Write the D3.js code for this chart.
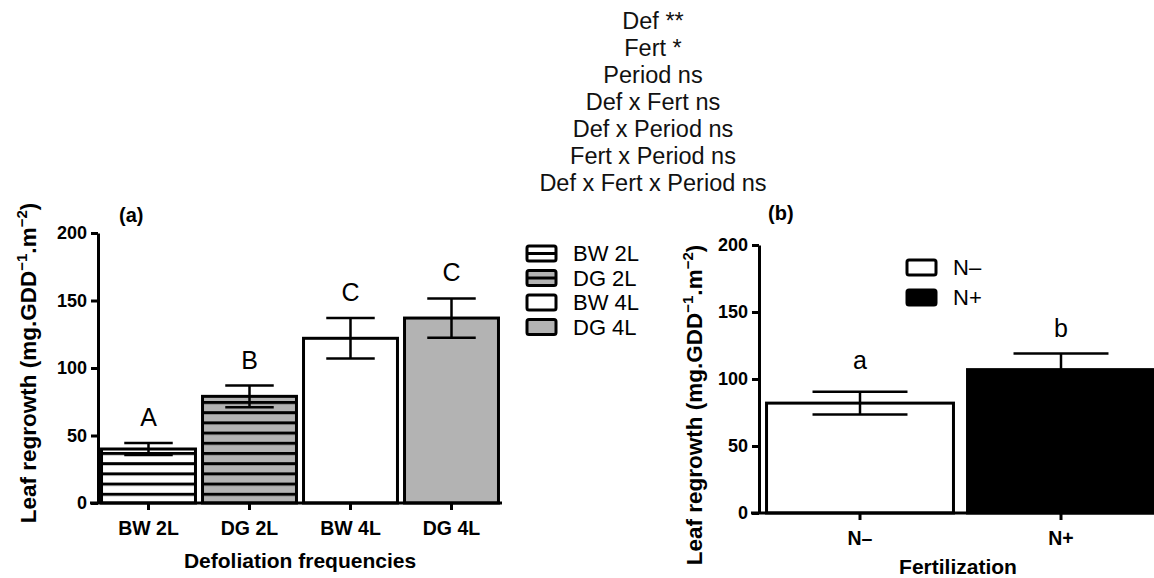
<!DOCTYPE html>
<html>
<head>
<meta charset="UTF-8">
<script src="https://d3js.org/d3.v7.min.js"></script>
<style>
  body { margin: 0; background: #fff; }
  svg { display: block; font-family: "Liberation Sans", Arial, sans-serif; }
</style>
</head>
<body>
<svg id="chart" width="1154" height="578"></svg>
<script>
// panel (a) data
const catsA = ["BW 2L", "DG 2L", "BW 4L", "DG 4L"];
const meansA = [40, 79, 122, 137];
const semA = [4.5, 8, 15, 14.5];
const lettersA = ["A", "B", "C", "C"];
// panel (b) data
const catsB = ["N\u2013", "N+"];
const meansB = [82, 107];
const semB = [8.5, 12];
const lettersB = ["a", "b"];
// ANOVA effects
const effects = ["Def **", "Fert *", "Period ns", "Def x Fert ns", "Def x Period ns",
  "Fert x Period ns", "Def x Fert x Period ns"];
const yTicks = [0, 50, 100, 150, 200];

const svg = d3.select("#chart");
const defs = svg.append("defs");

// striped patterns
function stripes(id, bg) {
  let p = defs.append("pattern").attr("id", id)
    .attr("patternUnits", "userSpaceOnUse").attr("width", 20).attr("height", 10.2)
    .attr("y", 503);
  p.append("rect").attr("width", 20).attr("height", 10.2).attr("fill", bg);
  p.append("rect").attr("y", 0).attr("width", 20).attr("height", 3).attr("fill", "#000");
}
stripes("hatchW", "#fff");
stripes("hatchG", "#b3b3b3");
const fillsA = ["url(#hatchW)", "url(#hatchG)", "#fff", "#b3b3b3"];
const fillsB = ["#fff", "#000"];

// effects text
svg.append("g").selectAll("text").data(effects).enter().append("text")
  .attr("x", 653).attr("y", (d, i) => 28.5 + i * 27)
  .attr("text-anchor", "middle").attr("font-size", 23.5).attr("fill", "#111")
  .text(d => d);

function yLabel(g, x, y) {
  let t = g.append("text").attr("transform", `translate(${x},${y}) rotate(-90)`)
    .attr("text-anchor", "middle").attr("font-size", 22.5).attr("font-weight", "bold");
  t.append("tspan").text("Leaf regrowth (mg.GDD");
  t.append("tspan").attr("dy", -9).attr("font-size", 15).text("\u22121");
  t.append("tspan").attr("dy", 9).text(".m");
  t.append("tspan").attr("dy", -9).attr("font-size", 15).text("\u22122");
  t.append("tspan").attr("dy", 9).text(")");
}

function panel(opts) {
  const g = svg.append("g");
  const y = d3.scaleLinear().domain([0, 200]).range([opts.y0, opts.y200]);
  const x = d3.scaleBand().domain(opts.cats).range(opts.xr)
    .paddingInner(opts.pin).paddingOuter(opts.pout);

  // bars
  g.selectAll("rect.bar").data(opts.cats).enter().append("rect")
    .attr("x", d => x(d) + 1.5).attr("width", x.bandwidth() - 3)
    .attr("y", (d, i) => y(opts.means[i]))
    .attr("height", (d, i) => y(0) - y(opts.means[i]))
    .attr("fill", (d, i) => opts.fills[i])
    .attr("stroke", "#000").attr("stroke-width", 3);

  // error bars
  opts.cats.forEach((c, i) => {
    const cx = x(c) + x.bandwidth() / 2, cw = x.bandwidth() / 4;
    const hi = y(opts.means[i] + opts.sem[i]), lo = y(opts.means[i] - opts.sem[i]);
    g.append("line").attr("x1", cx).attr("x2", cx).attr("y1", hi).attr("y2", lo)
      .attr("stroke", "#000").attr("stroke-width", 2.5);
    [hi, lo].forEach(v => g.append("line").attr("x1", cx - cw).attr("x2", cx + cw)
      .attr("y1", v).attr("y2", v).attr("stroke", "#000").attr("stroke-width", 2.5));
    g.append("text").attr("x", cx).attr("y", hi - opts.letOff[i]).attr("text-anchor", "middle")
      .attr("font-size", 25).text(opts.letters[i]);
  });

  // y axis
  const ya = g.append("g").attr("transform", `translate(${opts.xAxisX},0)`)
    .call(d3.axisLeft(y).tickValues(yTicks).tickSize(7).tickPadding(4).tickSizeOuter(0));
  ya.select(".domain").attr("stroke-width", 3);
  ya.selectAll(".tick line").attr("stroke-width", 3);
  ya.selectAll("text").attr("font-size", 18).attr("font-weight", "bold")
    .attr("font-family", "Liberation Sans, Arial, sans-serif").attr("fill", "#000");

  // x axis
  const xa = g.append("g").attr("transform", `translate(0,${opts.y0})`)
    .call(d3.axisBottom(x).tickSize(7).tickPadding(11).tickSizeOuter(0));
  xa.select(".domain").attr("d", `M${opts.xAxisX - 8},0H${opts.xr[1]}`).attr("stroke-width", 3);
  xa.selectAll(".tick line").attr("stroke-width", 3);
  xa.selectAll("text").attr("font-size", 19.5).attr("font-weight", "bold")
    .attr("font-family", "Liberation Sans, Arial, sans-serif").attr("fill", "#000");

  g.append("text").attr("x", opts.panelX).attr("y", opts.panelY).attr("font-size", 20)
    .attr("font-weight", "bold").text(opts.panelLabel);
  g.append("text").attr("x", opts.xTitleX).attr("y", opts.xTitleY).attr("text-anchor", "middle")
    .attr("font-size", 21).attr("font-weight", "bold").text(opts.xTitle);
  yLabel(g, opts.yLabX, opts.yLabY);

  // legend
  const lg = g.append("g");
  opts.cats.forEach((c, i) => {
    const ly = opts.legY + i * opts.legStep;
    lg.append("rect").attr("x", opts.legX).attr("y", ly - 7).attr("width", 29).attr("height", 15)
      .attr("rx", 2).attr("fill", opts.legFills[i]).attr("stroke", "#000").attr("stroke-width", 3);
    lg.append("text").attr("x", opts.legX + 46).attr("y", ly + 8)
      .attr("font-size", 22).text(c);
  });
}

// legend fills for (a): small stripes
function legStripe(id, bg) {
  let p = defs.append("pattern").attr("id", id)
    .attr("patternUnits", "objectBoundingBox").attr("width", 1).attr("height", 1);
  p.append("rect").attr("width", 29).attr("height", 15).attr("fill", bg);
  p.append("rect").attr("y", 6).attr("width", 29).attr("height", 3).attr("fill", "#000");
}
legStripe("legW", "#fff");
legStripe("legG", "#b3b3b3");

panel({
  cats: catsA, means: meansA, sem: semA, letters: lettersA, fills: fillsA,
  legFills: ["url(#legW)", "url(#legG)", "#fff", "#b3b3b3"], letOff: [17, 17, 17, 17],
  y0: 503, y200: 233, xr: [98, 502], pin: 0.04, pout: 0.02, xAxisX: 98,
  panelLabel: "(a)", panelX: 119, panelY: 222, xTitle: "Defoliation frequencies", xTitleX: 300, xTitleY: 568,
  yLabX: 36, yLabY: 363, legX: 527, legY: 253, legStep: 24.5
});

panel({
  cats: catsB, means: meansB, sem: semB, letters: lettersB, fills: fillsB,
  legFills: fillsB, letOff: [23, 17],
  y0: 513, y200: 245, xr: [759, 1162], pin: 0.055, pout: 0.03, xAxisX: 759,
  panelLabel: "(b)", panelX: 768, panelY: 220, xTitle: "Fertilization", xTitleX: 958, xTitleY: 574,
  yLabX: 702, yLabY: 405, legX: 907, legY: 267, legStep: 30
});
</script>
</body>
</html>
